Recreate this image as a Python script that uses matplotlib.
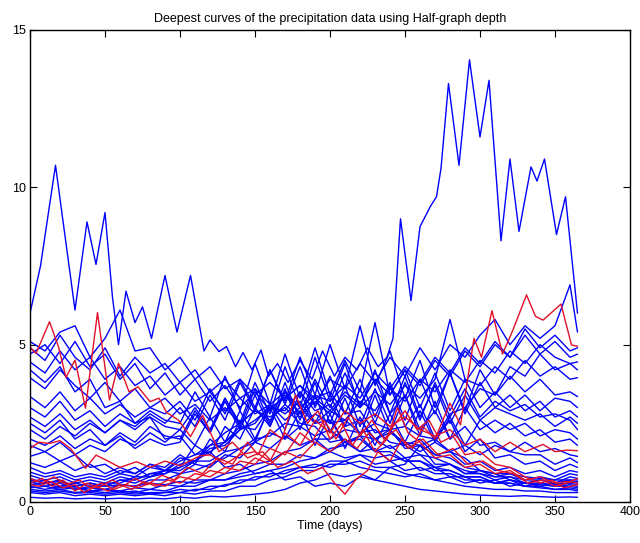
import matplotlib
matplotlib.use("Agg")
import matplotlib.pyplot as plt

plt.rcParams['font.family'] = ['Liberation Sans', 'DejaVu Sans']

title = "Deepest curves of the precipitation data using Half-graph depth"
xlabel = "Time (days)"
xticks = [0, 50, 100, 150, 200, 250, 300, 350, 400]
yticks = [0, 5, 10, 15]

# common day grid for most curves
grid_days = [0, 10, 20, 30, 40, 50, 60, 70, 80, 90, 100, 110, 120, 130, 140, 150, 160, 170, 180,
             190, 200, 210, 220, 230, 240, 250, 260, 270, 280, 290, 300, 310, 320, 330, 340, 350, 360, 365]

# top blue curve (own day list read at extrema)
top_days = [0, 7, 17, 30, 38, 44, 50, 55, 59, 64, 70, 75, 81, 90, 98, 107, 116, 120, 126, 131, 137, 142,
            148, 154, 159, 165, 172, 180, 188, 195, 203, 210, 218, 225, 232, 238, 242, 247, 254, 260, 267,
            271, 274, 279, 286, 293, 300, 306, 314, 320, 326, 334, 338, 343, 351, 357, 365]
top_vals = [6.0, 7.5, 10.7, 6.1, 8.9, 7.55, 9.2, 6.5, 5.0, 6.7, 5.7, 6.2, 5.2, 7.2, 5.4, 7.2, 4.8, 5.15,
            4.78, 4.94, 4.3, 4.75, 4.2, 4.83, 4.0, 4.4, 3.8, 4.5, 3.9, 4.8, 4.0, 4.6, 4.2, 4.9, 4.3, 4.6,
            5.2, 9.0, 6.4, 8.75, 9.4, 9.7, 10.6, 13.3, 10.7, 14.05, 11.6, 13.4, 8.3, 10.9, 8.6, 10.65, 10.2,
            10.9, 8.5, 9.7, 6.0]

b01 = [5.1, 4.8, 5.4, 5.6, 4.6, 5.2, 6.1, 4.8, 4.9, 4.2, 4.6, 3.9, 4.3, 3.6, 3.9, 3.4, 3.8, 3.3, 3.7, 3.1,
       3.9, 3.6, 4.4, 3.8, 4.6, 4.0, 4.9, 4.2, 5.0, 4.6, 5.3, 5.8, 5.0, 5.6, 5.2, 5.6, 6.9, 5.4]
b02 = [4.9, 4.5, 5.3, 4.6, 4.2, 4.9, 4.0, 4.6, 4.1, 4.4, 3.8, 4.2, 3.5, 3.9, 3.3, 3.6, 3.1, 3.5, 3.0, 3.4,
       3.2, 3.7, 3.3, 4.1, 3.6, 4.3, 3.8, 4.6, 4.1, 4.9, 4.4, 5.1, 4.6, 5.5, 4.9, 5.3, 4.8, 4.9]
b03 = [4.7, 5.0, 4.4, 5.1, 4.3, 4.7, 3.9, 4.4, 3.6, 4.1, 3.4, 3.9, 3.2, 3.7, 3.0, 3.5, 2.9, 3.4, 2.8, 3.3,
       2.9, 3.5, 3.1, 3.9, 3.4, 4.2, 3.7, 4.5, 4.0, 4.8, 4.3, 5.0, 4.6, 5.3, 4.7, 5.1, 4.6, 4.7]
b04 = [4.45, 4.1, 4.8, 4.2, 4.6, 3.9, 4.3, 3.7, 4.0, 3.4, 3.8, 3.2, 3.5, 2.9, 3.3, 2.8, 3.1, 2.6, 3.0, 2.5,
       2.9, 2.6, 3.2, 2.9, 3.6, 3.2, 3.9, 3.5, 4.2, 3.8, 4.5, 4.1, 4.8, 4.4, 5.0, 4.6, 4.4, 4.45]
b05 = [4.2, 3.8, 4.3, 3.5, 3.9, 3.0, 3.2, 2.5, 2.7, 2.0, 2.1, 1.5, 1.6, 1.1, 1.2, 0.9, 1.0, 0.7, 0.8, 0.5,
       0.6, 0.5, 0.8, 0.7, 1.1, 1.2, 1.8, 2.0, 2.8, 3.0, 3.6, 3.4, 4.3, 4.0, 4.7, 4.2, 4.4, 4.2]
b06 = [3.95, 3.6, 4.2, 3.7, 3.3, 3.8, 3.2, 3.6, 3.0, 3.3, 2.8, 3.1, 2.6, 3.0, 2.5, 2.9, 2.6, 3.1, 2.7, 3.2,
       2.8, 3.4, 3.0, 3.5, 3.1, 3.7, 3.3, 3.9, 5.8, 3.9, 3.7, 4.3, 3.9, 4.5, 4.0, 4.3, 3.9, 3.95]
b07 = [3.35, 3.0, 3.5, 2.9, 3.3, 2.8, 3.1, 2.7, 3.0, 2.8, 3.2, 2.6, 3.6, 2.8, 3.9, 3.0, 4.2, 3.1, 4.3, 3.0,
       4.0, 2.8, 3.9, 2.7, 3.8, 2.6, 3.9, 2.8, 4.1, 2.9, 4.2, 3.4, 4.0, 3.5, 3.9, 3.4, 3.5, 3.35]
b08 = [3.0, 2.7, 3.2, 2.6, 2.9, 2.4, 2.8, 2.5, 2.9, 2.6, 2.5, 3.5, 2.7, 4.0, 2.9, 4.4, 3.1, 4.7, 3.3, 4.9,
       3.4, 4.5, 3.5, 5.7, 3.4, 4.2, 3.0, 4.1, 2.9, 3.9, 3.0, 3.5, 3.0, 3.4, 2.9, 3.3, 3.2, 3.0]
b09 = [2.7, 2.4, 2.8, 2.3, 2.6, 2.2, 2.6, 2.4, 2.8, 2.5, 3.0, 2.4, 3.4, 2.6, 3.8, 2.9, 4.2, 3.2, 4.6, 3.4,
       5.0, 3.6, 5.6, 3.7, 4.8, 3.3, 4.5, 3.0, 4.1, 2.8, 3.8, 3.0, 3.4, 2.9, 3.2, 2.7, 2.9, 2.7]
b10 = [2.3, 2.0, 2.4, 2.1, 2.5, 2.2, 2.6, 2.3, 2.7, 2.4, 2.3, 3.0, 2.3, 3.3, 2.4, 3.6, 2.5, 3.8, 2.6, 3.8,
       2.5, 3.7, 2.4, 3.6, 2.5, 3.8, 2.6, 3.8, 2.7, 3.6, 2.7, 3.2, 2.9, 3.1, 2.7, 2.8, 2.6, 2.3]
b11 = [2.0, 1.8, 2.1, 1.7, 2.0, 1.8, 2.2, 1.9, 2.4, 2.1, 2.0, 2.9, 2.2, 3.2, 2.3, 3.4, 2.4, 3.6, 2.3, 3.4,
       2.2, 3.3, 2.1, 3.4, 2.2, 3.4, 2.1, 3.2, 2.0, 3.0, 2.3, 2.6, 2.3, 2.5, 2.1, 2.3, 2.2, 2.0]
b12 = [1.8, 1.6, 1.9, 1.5, 1.8, 1.6, 2.0, 1.8, 2.2, 1.9, 2.3, 1.8, 2.7, 1.9, 2.9, 2.0, 3.0, 2.0, 2.9, 1.8,
       2.8, 1.7, 2.7, 1.8, 2.8, 1.9, 2.9, 1.9, 2.7, 1.8, 2.6, 2.2, 2.5, 2.1, 2.3, 1.9, 2.0, 1.8]
b13 = [1.45, 1.6, 1.3, 1.5, 1.1, 1.2, 0.9, 1.1, 0.8, 1.0, 0.9, 1.2, 1.1, 1.5, 1.4, 1.9, 1.7, 2.1, 1.8, 2.0,
       1.6, 1.9, 1.6, 2.0, 1.7, 1.9, 1.6, 1.9, 1.6, 1.8, 1.5, 1.8, 1.6, 1.9, 1.6, 1.7, 1.5, 1.45]
b14 = [1.25, 1.1, 1.3, 1.0, 1.2, 0.9, 1.1, 0.9, 1.2, 1.0, 1.1, 1.8, 1.5, 2.4, 2.0, 3.0, 2.4, 3.5, 2.8, 3.9,
       3.0, 4.1, 3.1, 3.9, 2.8, 3.4, 2.3, 2.9, 2.0, 2.4, 1.8, 1.9, 1.6, 1.5, 1.5, 1.2, 1.4, 1.25]
b15 = [1.1, 0.9, 1.0, 0.8, 0.9, 0.8, 1.0, 0.9, 1.2, 1.1, 1.5, 1.2, 2.0, 1.6, 2.6, 1.9, 3.1, 2.3, 3.5, 2.5,
       3.4, 2.4, 3.6, 2.5, 3.7, 2.4, 3.1, 2.0, 2.6, 1.6, 2.0, 1.4, 1.5, 1.2, 1.3, 1.0, 1.2, 1.1]
b16 = [0.95, 0.8, 0.9, 0.7, 0.8, 0.7, 0.9, 0.8, 1.1, 1.0, 1.4, 1.3, 1.8, 1.9, 2.4, 2.3, 3.0, 2.9, 3.5, 2.9,
       3.1, 2.4, 2.6, 2.0, 2.3, 1.8, 2.0, 1.5, 1.6, 1.2, 1.3, 1.0, 1.1, 0.9, 1.0, 0.8, 1.0, 0.95]
b17 = [0.85, 0.7, 0.8, 0.6, 0.7, 0.6, 0.8, 0.7, 0.9, 0.9, 1.2, 1.3, 1.7, 1.8, 2.3, 2.5, 3.1, 2.8, 3.2, 2.5,
       2.6, 1.9, 2.1, 1.6, 1.8, 1.4, 1.5, 1.1, 1.2, 0.9, 1.0, 0.8, 0.9, 0.7, 0.8, 0.7, 0.9, 0.85]
b18 = [0.75, 0.6, 0.7, 0.5, 0.6, 0.5, 0.7, 0.6, 0.8, 0.9, 1.1, 1.3, 1.6, 1.9, 2.3, 2.6, 3.0, 3.3, 3.7, 3.3,
       3.5, 2.8, 2.9, 2.2, 2.3, 1.7, 1.8, 1.2, 1.2, 0.9, 0.9, 0.7, 0.8, 0.6, 0.7, 0.6, 0.8, 0.75]
b19 = [0.65, 0.5, 0.6, 0.4, 0.5, 0.5, 0.7, 0.7, 0.9, 1.0, 1.3, 1.5, 1.8, 2.2, 2.5, 2.9, 2.7, 3.0, 2.5, 2.4,
       1.9, 2.0, 1.6, 1.7, 1.3, 1.4, 1.0, 1.1, 0.8, 0.8, 0.6, 0.7, 0.5, 0.6, 0.5, 0.6, 0.6, 0.65]
b20 = [0.6, 0.7, 0.5, 0.6, 0.5, 0.6, 0.6, 0.8, 0.8, 1.0, 1.0, 1.3, 1.3, 1.6, 1.7, 2.0, 2.1, 2.5, 2.4, 2.8,
       2.5, 2.6, 2.2, 2.3, 1.9, 1.8, 1.5, 1.4, 1.2, 1.0, 0.9, 0.8, 0.8, 0.7, 0.7, 0.6, 0.7, 0.6]
b21 = [0.5, 0.4, 0.5, 0.4, 0.45, 0.4, 0.55, 0.5, 0.7, 0.7, 0.9, 1.0, 1.2, 1.4, 1.7, 1.9, 2.2, 2.0, 2.4, 2.1,
       2.3, 1.9, 2.0, 1.6, 1.6, 1.3, 1.3, 1.0, 1.0, 0.8, 0.8, 0.6, 0.7, 0.5, 0.6, 0.5, 0.55, 0.5]
b22 = [0.45, 0.5, 0.4, 0.45, 0.35, 0.4, 0.35, 0.45, 0.4, 0.55, 0.5, 0.7, 0.7, 0.9, 1.0, 1.2, 1.3, 1.6, 1.7,
       2.0, 2.0, 2.3, 2.2, 2.5, 2.3, 2.4, 2.1, 2.0, 1.6, 1.4, 1.0, 0.9, 0.7, 0.6, 0.55, 0.5, 0.5, 0.45]
b23 = [0.4, 0.35, 0.4, 0.3, 0.35, 0.3, 0.35, 0.3, 0.4, 0.35, 0.5, 0.5, 0.7, 0.7, 0.9, 1.0, 1.2, 1.2, 1.5,
       1.4, 1.6, 1.4, 1.5, 1.2, 1.3, 1.0, 1.1, 0.9, 0.9, 0.7, 0.7, 0.6, 0.6, 0.5, 0.5, 0.4, 0.45, 0.4]
b24 = [0.35, 0.3, 0.35, 0.28, 0.3, 0.25, 0.3, 0.25, 0.3, 0.3, 0.4, 0.35, 0.5, 0.5, 0.7, 0.7, 0.9, 0.9, 1.1,
       1.1, 1.3, 1.3, 1.5, 1.4, 1.5, 1.3, 1.3, 1.1, 1.0, 0.8, 0.8, 0.6, 0.6, 0.5, 0.45, 0.4, 0.4, 0.35]
b25 = [0.3, 0.25, 0.3, 0.2, 0.25, 0.2, 0.25, 0.2, 0.25, 0.2, 0.3, 0.25, 0.35, 0.35, 0.5, 0.5, 0.7, 0.8, 1.0,
       1.0, 1.2, 1.2, 1.3, 1.1, 1.1, 0.9, 0.8, 0.7, 0.6, 0.5, 0.45, 0.4, 0.4, 0.35, 0.35, 0.3, 0.3, 0.3]
b26 = [0.15, 0.12, 0.14, 0.1, 0.12, 0.1, 0.12, 0.1, 0.12, 0.1, 0.15, 0.12, 0.18, 0.16, 0.2, 0.25, 0.3, 0.4,
       0.6, 0.7, 0.9, 0.8, 0.9, 0.7, 0.6, 0.5, 0.4, 0.35, 0.3, 0.25, 0.22, 0.2, 0.18, 0.2, 0.17, 0.15, 0.16, 0.15]
b27 = [0.55, 0.6, 0.45, 0.5, 0.35, 0.4, 0.3, 0.35, 0.25, 0.3, 0.3, 0.4, 0.4, 0.55, 0.6, 0.8, 0.8, 1.0, 1.1,
       1.2, 1.1, 1.3, 1.1, 1.0, 0.9, 0.8, 0.9, 0.7, 0.8, 0.6, 0.7, 0.6, 0.7, 0.6, 0.6, 0.55, 0.6, 0.55]
b28 = [0.7, 0.6, 0.65, 0.5, 0.6, 0.5, 0.55, 0.5, 0.6, 0.55, 0.65, 0.6, 0.7, 0.7, 0.8, 0.9, 1.0, 1.1, 1.3,
       1.4, 1.7, 1.8, 2.1, 2.0, 2.2, 1.9, 1.8, 1.5, 1.4, 1.1, 1.0, 0.9, 0.9, 0.8, 0.75, 0.7, 0.7, 0.7]
b29 = [2.5, 2.2, 2.6, 2.0, 2.3, 1.8, 2.1, 1.7, 2.0, 1.8, 1.9, 2.8, 2.2, 3.3, 2.5, 3.8, 2.8, 4.3, 3.0, 4.6,
       3.2, 4.4, 3.0, 4.2, 2.8, 4.0, 2.7, 3.7, 2.5, 3.4, 2.6, 3.0, 2.8, 2.6, 2.8, 2.4, 2.7, 2.5]

blue_grid = [b01, b02, b03, b04, b05, b06, b07, b08, b09, b10, b11, b12, b13, b14, b15,
             b16, b17, b18, b19, b20, b21, b22, b23, b24, b25, b26, b27, b28, b29]

# red (deepest) curves, each with its own day list
redA_days = [0, 4, 13, 19, 24, 30, 37, 45, 53, 59, 66, 72, 80, 86, 91, 99, 107, 115, 126, 135, 145, 155, 165,
             175, 185, 195, 203, 210, 217, 225, 232, 240, 248, 255, 262, 270, 280, 287, 296, 301, 308, 315,
             322, 331, 337, 342, 354, 361, 365]
redA_vals = [4.93, 4.72, 5.73, 4.93, 3.96, 4.51, 2.98, 6.02, 3.24, 4.41, 3.5, 3.66, 3.19, 3.3, 2.85, 2.6, 2.08,
             2.76, 1.6, 1.9, 1.4, 1.6, 1.1, 1.3, 0.9, 1.1, 0.6, 0.25, 0.7, 1.0, 1.6, 1.3, 2.0, 1.7, 2.4, 2.0,
             3.14, 2.45, 5.2, 4.6, 6.08, 4.7, 5.47, 6.58, 5.9, 5.78, 6.29, 4.99, 4.95]
redB_days = [0, 6, 13, 20, 27, 37, 44, 52, 60, 71, 80, 90, 100, 113, 120, 130, 140, 150, 160, 170, 180, 190,
             200, 210, 220, 230, 240, 250, 260, 270, 280, 290, 300, 310, 320, 330, 342, 350, 358, 365]
redB_vals = [1.7, 1.9, 1.86, 1.95, 1.7, 1.07, 1.49, 1.3, 1.1, 1.28, 1.1, 1.3, 1.15, 1.46, 1.5, 1.2, 1.5, 1.6,
             1.3, 2.2, 1.8, 2.6, 2.2, 2.9, 2.5, 2.8, 2.4, 2.7, 2.3, 2.1, 2.3, 1.8, 2.0, 1.6, 1.9, 1.6, 1.83,
             1.6, 1.65, 1.63]
redC_days = [0, 8, 15, 22, 30, 38, 45, 55, 62, 70, 78, 88, 96, 105, 115, 125, 135, 145, 152, 160, 168, 177,
             185, 192, 200, 208, 215, 222, 230, 238, 245, 252, 260, 270, 280, 290, 300, 310, 320, 330, 340,
             350, 358, 365]
redC_vals = [0.6, 0.75, 0.5, 0.7, 0.35, 0.6, 0.45, 0.7, 0.5, 0.75, 0.55, 0.85, 0.7, 1.1, 0.9, 1.4, 1.2, 1.9,
             1.5, 2.3, 2.0, 3.4, 2.5, 2.9, 2.0, 2.5, 1.8, 2.3, 1.6, 2.0, 3.0, 2.2, 1.9, 1.4, 1.5, 1.1, 1.2,
             0.9, 1.0, 0.7, 0.8, 0.6, 0.65, 0.6]
redD_days = [0, 8, 16, 24, 33, 40, 48, 56, 64, 72, 80, 90, 100, 110, 120, 130, 140, 150, 160, 170, 180, 188,
             196, 204, 212, 220, 228, 236, 244, 252, 262, 272, 282, 292, 302, 312, 322, 332, 342, 350, 358, 365]
redD_vals = [0.75, 0.6, 0.8, 0.55, 0.7, 0.45, 0.6, 0.4, 0.55, 0.45, 0.6, 0.5, 0.8, 0.7, 1.0, 0.9, 1.3, 1.2,
             1.7, 1.5, 2.2, 1.9, 2.6, 2.0, 2.7, 2.1, 2.6, 2.0, 2.3, 1.7, 2.0, 1.5, 1.7, 1.2, 1.3, 1.0, 0.9,
             0.6, 0.7, 0.5, 0.6, 0.75]
redE_days = [0, 6, 14, 22, 30, 36, 44, 52, 60, 68, 76, 84, 92, 100, 110, 120, 130, 140, 150, 160, 170, 180,
             190, 200, 210, 218, 226, 234, 242, 250, 258, 266, 274, 282, 290, 300, 310, 320, 330, 340, 348,
             356, 365]
redE_vals = [0.55, 0.5, 0.65, 0.45, 0.55, 0.3, 0.5, 0.35, 0.55, 0.4, 0.65, 0.5, 0.7, 0.6, 0.9, 0.8, 1.1, 1.0,
             1.4, 1.2, 1.6, 1.4, 1.9, 1.6, 2.0, 1.7, 2.2, 1.8, 2.4, 2.9, 2.3, 2.6, 1.9, 2.1, 1.5, 1.6, 1.2,
             1.1, 0.8, 0.6, 0.7, 0.45, 0.55]

red_series = [(redA_days, redA_vals), (redB_days, redB_vals), (redC_days, redC_vals),
              (redD_days, redD_vals), (redE_days, redE_vals)]

BLUE = '#0000ff'
RED = '#e0102a'

fig = plt.figure(figsize=(6.4, 5.43), dpi=100)
ax = fig.add_axes([30 / 640, 41 / 543, 600 / 640, 472 / 543])

line_kw = dict(lw=1.0, solid_joinstyle='round', solid_capstyle='round')
ax.plot(top_days, top_vals, color=BLUE, **line_kw)
for vals in blue_grid:
    ax.plot(grid_days, vals, color=BLUE, **line_kw)
for d, v in red_series:
    ax.plot(d, v, color=RED, **line_kw)

ax.set_xlim(0, 400)
ax.set_ylim(0, 15)
ax.set_xticks(xticks)
ax.set_yticks(yticks)
ax.tick_params(direction='in', top=True, right=True, length=5, width=0.8, labelsize=9, pad=3)
for s in ax.spines.values():
    s.set_linewidth(1.0)
ax.set_title(title, fontsize=9, pad=6)
ax.set_xlabel(xlabel, fontsize=9, labelpad=1)

fig.savefig('out.png', dpi=100)
